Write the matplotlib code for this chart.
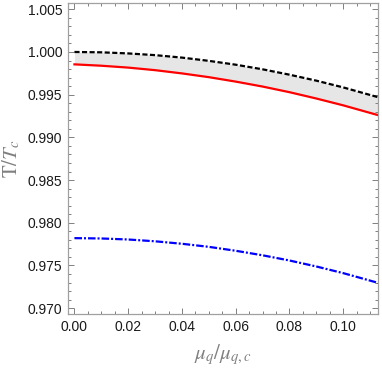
import matplotlib
matplotlib.use("Agg")
import matplotlib.pyplot as plt
from matplotlib.ticker import MultipleLocator, FormatStrFormatter

plt.rcParams['mathtext.fontset'] = 'stix'
plt.rcParams['font.family'] = ['Liberation Sans', 'DejaVu Sans']

x = [0.0, 0.01, 0.02, 0.03, 0.04, 0.05, 0.06, 0.07, 0.08, 0.09, 0.10, 0.113]
black_dashed = [1.00000, 0.99996, 0.99983, 0.99963, 0.99934, 0.99896, 0.99851,
                0.99797, 0.99734, 0.99664, 0.99585, 0.99470]
red_solid = [0.99855, 0.99839, 0.99817, 0.99787, 0.99749, 0.99705, 0.99653,
             0.99595, 0.99529, 0.99455, 0.99375, 0.99260]
blue_dashdot = [0.97820, 0.97816, 0.97804, 0.97783, 0.97754, 0.97718, 0.97672,
                0.97619, 0.97558, 0.97488, 0.97410, 0.97296]

fig = plt.figure(figsize=(3.82, 3.70), dpi=100)
ax = fig.add_axes([0.178, 0.151, 0.812, 0.841])

ax.fill_between(x, red_solid, black_dashed, color='#e6e6e6', lw=0)
ax.plot(x, black_dashed, color='black', lw=1.6, dashes=(2.3, 1.1))
ax.plot(x, red_solid, color='#ff0000', lw=1.6)
ax.plot(x, blue_dashdot, color='#0000ff', lw=1.6, dashes=(3.4, 0.9, 0.9, 0.9))

ax.set_xlim(-0.0024, 0.113)
ax.set_ylim(0.9693, 1.00574)

ax.xaxis.set_major_locator(MultipleLocator(0.02))
ax.xaxis.set_minor_locator(MultipleLocator(0.005))
ax.yaxis.set_major_locator(MultipleLocator(0.005))
ax.yaxis.set_minor_locator(MultipleLocator(0.001))
ax.xaxis.set_major_formatter(FormatStrFormatter('%.2f'))
ax.yaxis.set_major_formatter(FormatStrFormatter('%.3f'))

for s in ax.spines.values():
    s.set_color('#a0a0a0')
    s.set_linewidth(0.9)
ax.tick_params(which='both', direction='in', top=True, right=True,
               color='#808080', width=0.7, labelsize=10, labelcolor='#1a1a1a')
ax.tick_params(which='major', length=4.5, pad=4)
ax.tick_params(which='minor', length=2.5)

ax.set_xlabel(r'$\mu_q/\mu_{q,c}$', fontsize=15, color='#808080', labelpad=6)
ax.set_ylabel(r'$\mathrm{T}/T_c$', fontsize=15, color='#808080', labelpad=4)

fig.savefig('out.png', dpi=100)
